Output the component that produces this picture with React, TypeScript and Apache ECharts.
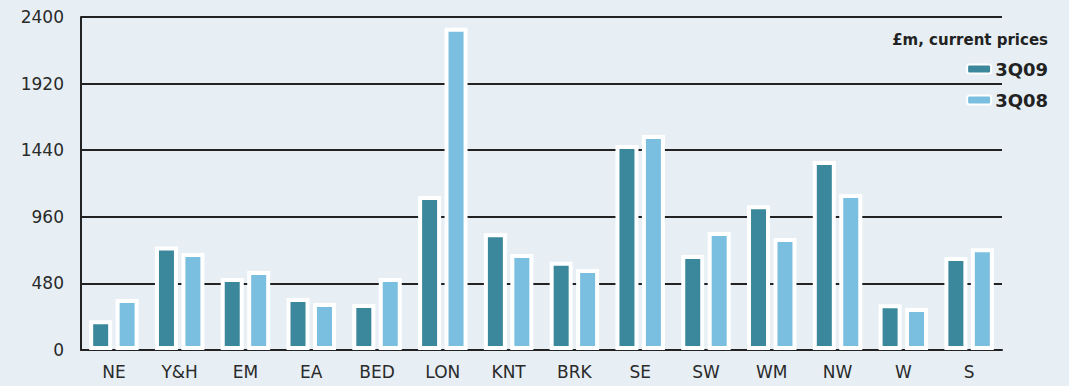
import React, { useEffect, useRef } from "react";
import * as echarts from "echarts";

const categories = ["NE", "Y&H", "EM", "EA", "BED", "LON", "KNT", "BRK", "SE", "SW", "WM", "NW", "W", "S"];
const values3Q09 = [215, 746, 519, 375, 332, 1110, 841, 636, 1477, 685, 1044, 1362, 330, 670];
const values3Q08 = [367, 699, 569, 339, 519, 2322, 692, 584, 1550, 850, 807, 1124, 303, 733];
const yTicks = { min: 0, max: 2400, interval: 480 };
const unitLabel = "£m, current prices";

export default function App() {
  const ref = useRef<HTMLDivElement>(null);
  useEffect(() => {
    document.body.style.margin = "0";
    const chart = echarts.init(ref.current!, null, { renderer: "svg" });
    const font = "DejaVu Sans";
    chart.setOption({
      animation: false,
      backgroundColor: "#E7EFF5",
      title: {
        text: unitLabel,
        right: 21,
        top: 32,
        padding: 0,
        textStyle: { fontFamily: font, fontSize: 15, lineHeight: 16, fontWeight: "bold", color: "#222" },
      },
      legend: {
        orient: "vertical",
        right: 21,
        top: 59,
        padding: 0,
        itemWidth: 24,
        itemHeight: 9,
        itemGap: 11,
        align: "left",
        textStyle: { fontFamily: font, fontSize: 18, lineHeight: 20, fontWeight: "bold", color: "#222", padding: [0, 0, 0, -1] },
        data: ["3Q09", "3Q08"],
      },
      grid: { left: 81, right: 67, top: 17, bottom: 36, containLabel: false },
      xAxis: {
        type: "category",
        data: categories,
        axisLine: { lineStyle: { color: "#222", width: 2 } },
        axisTick: { show: false },
        axisLabel: { fontFamily: font, fontSize: 17, color: "#2a2a2a", margin: 13 },
      },
      yAxis: {
        type: "value",
        min: yTicks.min,
        max: yTicks.max,
        interval: yTicks.interval,
        axisLine: { show: true, lineStyle: { color: "#222", width: 2 } },
        axisTick: { show: false },
        axisLabel: {
          fontFamily: font,
          fontSize: 17,
          color: "#2a2a2a",
          margin: 17,
          formatter: (v: number) => String(v),
        },
        splitLine: { lineStyle: { color: "#222", width: 2 } },
      },
      series: [
        {
          name: "3Q09",
          type: "bar",
          data: values3Q09,
          barWidth: 23,
          barGap: "15%",
          itemStyle: { color: "#3B889C", borderColor: "#ffffff", borderWidth: 4 },
        },
        {
          name: "3Q08",
          type: "bar",
          data: values3Q08,
          barWidth: 23,
          barGap: "15%",
          itemStyle: { color: "#7BBFE0", borderColor: "#ffffff", borderWidth: 4 },
        },
      ],
    });
    return () => chart.dispose();
  }, []);
  return <div ref={ref} style={{ width: 1069, height: 386 }} />;
}
